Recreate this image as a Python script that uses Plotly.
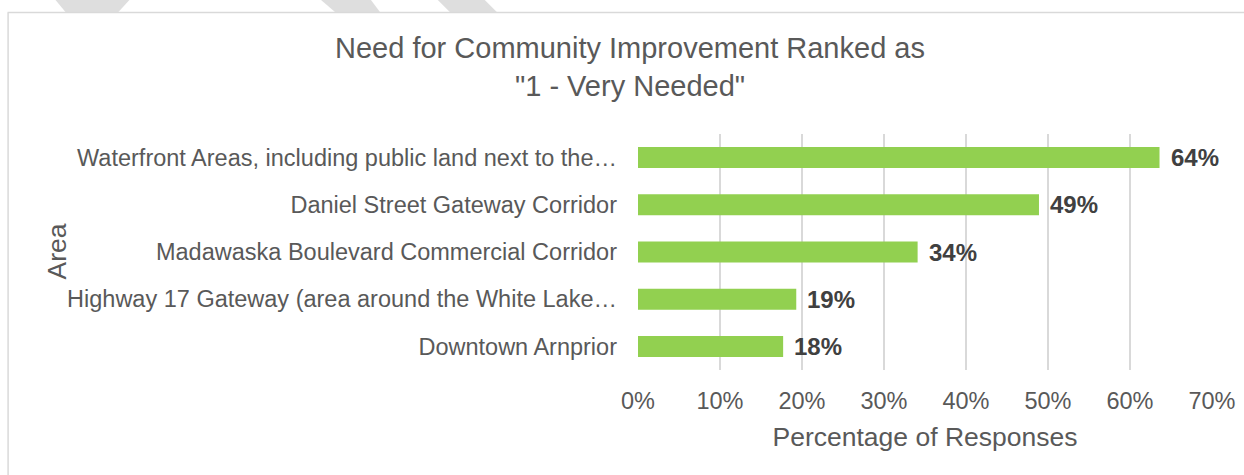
import plotly.graph_objects as go

categories = [
    "Waterfront Areas, including public land next to the…",
    "Daniel Street Gateway Corridor",
    "Madawaska Boulevard Commercial Corridor",
    "Highway 17 Gateway (area around the White Lake…",
    "Downtown Arnprior",
]
values = [0.636, 0.489, 0.341, 0.193, 0.177]
x_ticks = [0, 0.1, 0.2, 0.3, 0.4, 0.5, 0.6, 0.7]
x_tick_labels = ["0%", "10%", "20%", "30%", "40%", "50%", "60%", "70%"]

W, H = 1244, 475
L, R, T, B = 637.5, 31.5, 134, 105
PW, PH = W - L - R, H - T - B


def px(X):
    return (X - L) / PW


def py(Y):
    return (H - B - Y) / PH


FONT = "Liberation Sans, Arial, sans-serif"
GREY = "#595959"

fig = go.Figure(
    go.Bar(
        x=values,
        y=categories,
        orientation="h",
        marker=dict(color="#92d050", line=dict(width=0)),
        hoverinfo="x+y",
    )
)

annotations = []
for c, v in zip(categories, values):
    annotations.append(dict(
        x=v, y=c, xref="x", yref="y", text=f"{round(v * 100)}%",
        showarrow=False, xanchor="left", xshift=9,
        font=dict(family=FONT, size=24, color="#404040", weight="bold"),
    ))
annotations.append(dict(
    x=px(55), y=0.5, xref="paper", yref="paper", text="Area",
    textangle=-90, showarrow=False, xanchor="center", yanchor="middle",
    font=dict(family=FONT, size=26.5, color=GREY),
))

stripes = [
    [(54, 0), (128, 0), (117, 12), (64, 12)],
    [(320, 0), (370, 0), (379, 12), (334, 12)],
    [(437, 0), (484, 0), (496, 12), (449, 12)],
]
shapes = []
for poly in stripes:
    path = "M " + " L ".join(f"{px(a):.5f},{py(b):.5f}" for a, b in poly) + " Z"
    shapes.append(dict(type="path", xref="paper", yref="paper", path=path,
                       fillcolor="#dedede", line=dict(width=0), layer="below"))
shapes.append(dict(type="line", xref="paper", yref="paper",
                   x0=px(6), x1=px(1250), y0=py(12.5), y1=py(12.5),
                   line=dict(color="#d9d9d9", width=1.5)))
shapes.append(dict(type="line", xref="paper", yref="paper",
                   x0=px(6.5), x1=px(6.5), y0=py(12.5), y1=py(480),
                   line=dict(color="#d9d9d9", width=1.5)))

fig.update_layout(
    width=W, height=H,
    margin=dict(l=L, r=R, t=T, b=B, autoexpand=False),
    paper_bgcolor="white", plot_bgcolor="white",
    showlegend=False,
    bargap=0.555,
    title=dict(
        text='Need for Community Improvement Ranked as<br>"1 - Very Needed"',
        x=630 / W, xanchor="center", xref="container",
        y=1 - 58 / H, yanchor="top", yref="container",
        font=dict(family=FONT, size=29, color=GREY),
    ),
    xaxis=dict(
        range=[0, 0.7], tickvals=x_ticks, ticktext=x_tick_labels,
        showgrid=True, gridcolor="#d9d9d9", gridwidth=1.5,
        zeroline=False, showline=False, ticks="",
        tickfont=dict(family=FONT, size=23.5, color=GREY),
        ticklabelstandoff=14,
        title=dict(text="Percentage of Responses", standoff=14,
                   font=dict(family=FONT, size=26.5, color=GREY)),
        fixedrange=True,
    ),
    yaxis=dict(
        autorange="reversed", showgrid=False, zeroline=False,
        showline=False, ticks="",
        tickfont=dict(family=FONT, size=23.5, color=GREY),
        ticklabelstandoff=20,
        fixedrange=True,
    ),
    annotations=annotations,
    shapes=shapes,
)

fig.write_html(
    "out.html",
    config={"displayModeBar": False},
    post_script="document.body.style.margin='0';document.body.style.overflow='hidden';",
)
